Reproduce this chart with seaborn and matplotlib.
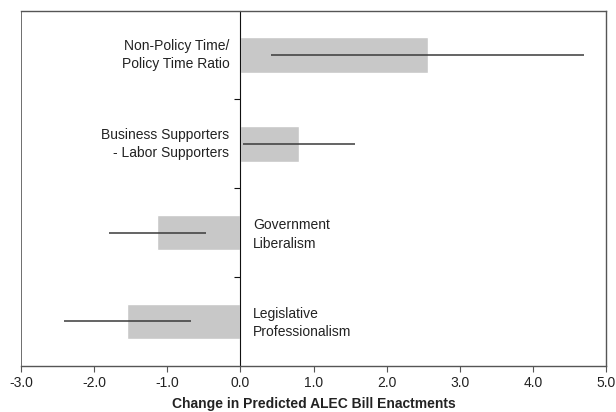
import pandas as pd
import matplotlib.pyplot as plt
import seaborn as sns

sns.set_style("white")
plt.rcParams["font.family"] = ["Liberation Sans", "DejaVu Sans"]

# effects on predicted ALEC bill enactments, with interval ends
labels = ["Non-Policy Time/\nPolicy Time Ratio",
          "Business Supporters\n- Labor Supporters",
          "Government\nLiberalism",
          "Legislative\nProfessionalism"]
effects = [2.57, 0.80, -1.14, -1.55]
ci_low = [0.42, 0.04, -1.80, -2.41]
ci_high = [4.70, 1.56, -0.47, -0.67]
x_ticks = [-3.0, -2.0, -1.0, 0.0, 1.0, 2.0, 3.0, 4.0, 5.0]

df = pd.DataFrame({"label": labels, "effect": effects,
                   "low": ci_low, "high": ci_high})

fig = plt.figure(figsize=(6.16, 4.12), dpi=100)
ax = fig.add_axes([0.034, 0.112, 0.950, 0.862])

sns.barplot(data=df, y="label", x="effect", orient="h", color="#c8c8c8",
            width=0.4, saturation=1, ax=ax)

ypos = range(len(df))
ax.hlines(ypos, df["low"], df["high"], color="#3a3a3a", lw=1.1, zorder=3)

# category labels sit on the side of the zero line opposite the bar
for y, (lab, val) in enumerate(zip(df["label"], df["effect"])):
    if val >= 0:
        ax.text(-0.15, y, lab, ha="right", va="center", fontsize=10,
                color="#222222", linespacing=1.4)
    else:
        ax.text(0.17, y + 0.02, lab, ha="left", va="center", fontsize=10,
                color="#222222", linespacing=1.4)

ax.set_xlim(-3, 5)
ax.set_ylim(len(df) - 0.5, -0.5)
ax.set_xticks(x_ticks)
ax.set_xticklabels([f"{t:.1f}" for t in x_ticks], fontsize=10, color="#222222")
ax.set_xlabel("Change in Predicted ALEC Bill Enactments", fontsize=10,
              fontweight="bold", color="#222222", labelpad=5)
ax.set_ylabel("")

# y axis lives on the zero line, with ticks between categories
ax.spines["left"].set_position(("data", 0))
ax.spines["left"].set_color("#111111")
ax.set_yticks([0.5, 1.5, 2.5])
ax.set_yticklabels([])
ax.axvline(-3, color="#555555", lw=1.2, zorder=4)
for side in ["top", "right", "bottom"]:
    ax.spines[side].set_color("#555555")
    ax.spines[side].set_linewidth(1.0)
ax.tick_params(axis="x", direction="out", length=4, color="#555555", bottom=True)
ax.tick_params(axis="y", direction="out", length=4, color="#111111", left=True)

fig.savefig("out.png", dpi=100)
